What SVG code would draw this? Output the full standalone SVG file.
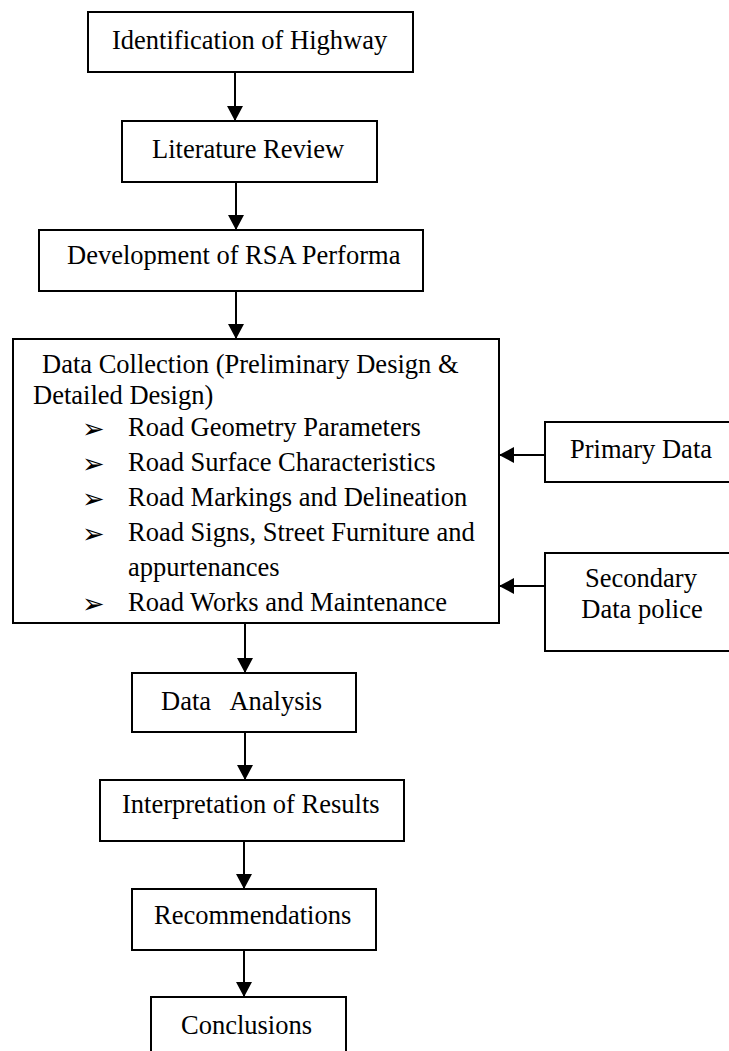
<svg xmlns="http://www.w3.org/2000/svg" width="729" height="1051" viewBox="0 0 729 1051">
<style>
.box{fill:#fff;stroke:#000;stroke-width:2}
.t{font-family:"Liberation Serif","Times New Roman",serif;font-size:26.5px;fill:#000}
.c{text-anchor:middle}
.b{font-family:"DejaVu Sans",sans-serif;font-size:27px;fill:#000}
.ln{stroke:#000;stroke-width:2;fill:none}
</style>
<defs>
<marker id="ah" markerUnits="userSpaceOnUse" markerWidth="16" markerHeight="16" viewBox="0 0 16 16" refX="15" refY="8" orient="auto">
<path d="M0,0 L15,8 L0,16 Z" fill="#000"/>
</marker>
</defs>
<rect width="729" height="1051" fill="#fff"/>
<g id="connectors">
<line class="ln" x1="235" y1="72" x2="235" y2="121" marker-end="url(#ah)"/>
<line class="ln" x1="236" y1="182" x2="236" y2="230" marker-end="url(#ah)"/>
<line class="ln" x1="236" y1="291" x2="236" y2="339" marker-end="url(#ah)"/>
<line class="ln" x1="545" y1="455" x2="499" y2="455" marker-end="url(#ah)"/>
<line class="ln" x1="545" y1="586" x2="499" y2="586" marker-end="url(#ah)"/>
<line class="ln" x1="245" y1="623" x2="245" y2="673" marker-end="url(#ah)"/>
<line class="ln" x1="245" y1="732" x2="245" y2="780" marker-end="url(#ah)"/>
<line class="ln" x1="244" y1="841" x2="244" y2="889" marker-end="url(#ah)"/>
<line class="ln" x1="244" y1="950" x2="244" y2="997" marker-end="url(#ah)"/>
</g>
<g id="n1"><rect class="box" x="88" y="12" width="325" height="60"/><text class="t" x="112" y="49">Identification of Highway</text></g>
<g id="n2"><rect class="box" x="122" y="121" width="255" height="61"/><text class="t" x="152" y="158">Literature Review</text></g>
<g id="n3"><rect class="box" x="39" y="230" width="384" height="61"/><text class="t" x="67" y="264">Development of RSA Performa</text></g>
<g id="n4"><rect class="box" x="13" y="339" width="486" height="284"/>
<text class="t" x="42" y="373">Data Collection (Preliminary Design &amp;</text>
<text class="t" x="33" y="404">Detailed Design)</text>
<text class="b" x="82" y="438">➢</text><text class="t" x="128" y="436">Road Geometry Parameters</text>
<text class="b" x="82" y="473">➢</text><text class="t" x="128" y="471">Road Surface Characteristics</text>
<text class="b" x="82" y="508">➢</text><text class="t" x="128" y="506">Road Markings and Delineation</text>
<text class="b" x="82" y="543">➢</text><text class="t" x="128" y="541">Road Signs, Street Furniture and</text>
<text class="t" x="128" y="576">appurtenances</text>
<text class="b" x="82" y="613">➢</text><text class="t" x="128" y="611">Road Works and Maintenance</text>
</g>
<g id="n5"><rect class="box" x="545" y="422" width="190" height="60"/><text class="t c" x="641" y="458">Primary Data</text></g>
<g id="n6"><rect class="box" x="545" y="553" width="190" height="98"/><text class="t c" x="641" y="587">Secondary</text><text class="t c" x="642" y="618">Data police</text></g>
<g id="n7"><rect class="box" x="132" y="673" width="224" height="59"/><text class="t" x="161" y="710" xml:space="preserve">Data   Analysis</text></g>
<g id="n8"><rect class="box" x="100" y="780" width="304" height="61"/><text class="t" x="122" y="813">Interpretation of Results</text></g>
<g id="n9"><rect class="box" x="132" y="889" width="244" height="61"/><text class="t" x="154" y="924">Recommendations</text></g>
<g id="n10"><rect class="box" x="151" y="997" width="195" height="70"/><text class="t" x="181" y="1034">Conclusions</text></g>
</svg>
